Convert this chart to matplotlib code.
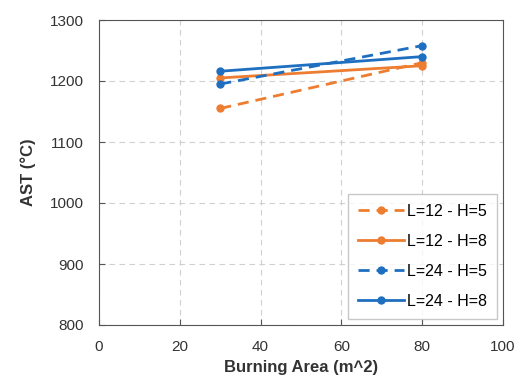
import matplotlib
matplotlib.use("Agg")
import matplotlib.pyplot as plt

plt.rcParams['font.family'] = ['Liberation Sans', 'DejaVu Sans']

area = [30, 80]
l12_h5 = [1155, 1230]
l12_h8 = [1205, 1225]
l24_h5 = [1195, 1258]
l24_h8 = [1216, 1240]

orange = '#ED7D31'
blue = '#1F6FC0'

fig = plt.figure(figsize=(5.23, 3.79), dpi=100)
ax = fig.add_axes([99 / 523, 54 / 379, 404 / 523, 305 / 379])

ax.plot(area, l12_h5, color=orange, ls=(0, (4, 2.5)), lw=2, marker='o', ms=5, label='L=12 - H=5')
ax.plot(area, l12_h8, color=orange, lw=2, marker='o', ms=5, label='L=12 - H=8')
ax.plot(area, l24_h5, color=blue, ls=(0, (4, 2.5)), lw=2, marker='o', ms=5, label='L=24 - H=5')
ax.plot(area, l24_h8, color=blue, lw=2, marker='o', ms=5, label='L=24 - H=8')

ax.set_xlim(0, 100)
ax.set_ylim(800, 1300)
ax.set_xticks(range(0, 101, 20))
ax.set_yticks(range(800, 1301, 100))
ax.grid(True, color='#d0d0d0', ls=(0, (5, 4)), lw=0.8)
ax.tick_params(labelsize=11, colors='#555555', labelcolor='#333333',
               direction='in', length=4, pad=11)
for s in ax.spines.values():
    s.set_color('#555555')

ax.set_xlabel('Burning Area (m^2)', fontsize=12, fontweight='bold', color='#333333', labelpad=4)
ax.set_ylabel('AST (°C)', fontsize=12, fontweight='bold', color='#333333', labelpad=10)

leg = ax.legend(loc='lower right', fontsize=11.5, frameon=True, fancybox=False,
                edgecolor='#bbbbbb', handlelength=2.9, labelspacing=0.95,
                borderpad=0.6, handletextpad=0.2, borderaxespad=0.4)

fig.savefig('out.png', dpi=100)
